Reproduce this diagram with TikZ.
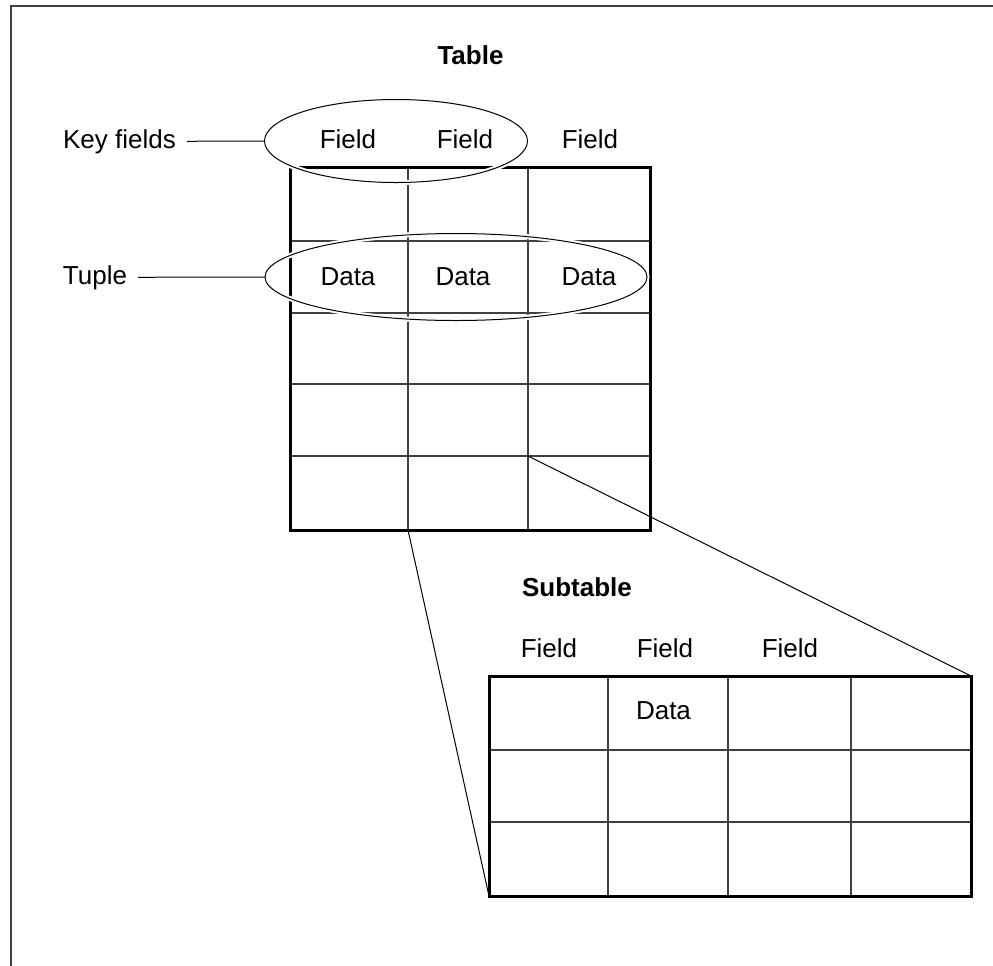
\documentclass[tikz,border=0pt]{standalone}
\usepackage{fontspec}
\setmainfont{Liberation Sans}
\usepackage{tikz}
\usetikzlibrary{
    shapes.geometric,
    positioning,
    calc
}

\begin{document}
\begin{tikzpicture}[
        x=0.5pt, y=-0.5pt,
        lbl/.style={font=\fontsize{13}{15}\selectfont, anchor=base, inner sep=0pt},
        tag/.style={font=\fontsize{13}{15}\selectfont, anchor=base, inner sep=0pt, outer sep=5.5pt},
        ttl/.style={font=\fontsize{13}{15}\selectfont\bfseries, anchor=base, inner sep=0pt},
        box/.style={rectangle, draw, line width=1.5pt, inner sep=0pt, outer sep=0pt},
        rule/.style={draw=black!75, line width=0.6pt},
        oval/.style={ellipse, draw, line width=0.5pt, inner sep=0pt, outer sep=0pt, preaction={draw=white, line width=2.5pt}},
        link/.style={draw, line width=0.5pt}
    ]
        \useasboundingbox (0,0) rectangle (993,966);
        \draw[black!75, line width=0.7pt] (11,966) -- (11,6) -- (993,6);

        % table
        \draw[rule] (408,167) -- (408,530);
        \draw[rule] (528,167) -- (528,530);
        \draw[rule] (290,241) -- (650,241);
        \draw[rule] (290,313) -- (650,313);
        \draw[rule] (290,384) -- (650,384);
        \draw[rule] (290,456) -- (650,456);
        \node[box, minimum width=180pt, minimum height=181.5pt] (tbl) at (470,348.5) {};

        \node[oval, minimum width=131.5pt, minimum height=41.5pt] (keys) at (396,141) {};
        \node[oval, minimum width=191pt, minimum height=43.5pt] (tuple) at (456,277) {};

        \node[ttl] (tblttl) at (470.5,64) {Table};
        \node[lbl] (field1) at (348,148) {Field};
        \node[lbl] (field2) at (465,148) {Field};
        \node[lbl] (field3) at (590,148) {Field};
        \node[lbl] (data1) at (348,285) {Data};
        \node[lbl] (data2) at (463,285) {Data};
        \node[lbl] (data3) at (589,285) {Data};

        \node[tag] (keylbl) at (119.5,148) {Key fields};
        \node[tag] (tuplelbl) at (95,284) {Tuple};
        \draw[link] (keylbl.east) -- (keys.west);
        \draw[link] (tuplelbl.east) -- (tuple.west);

        % subtable
        \draw[rule] (608,676) -- (608,896);
        \draw[rule] (728,676) -- (728,896);
        \draw[rule] (851,676) -- (851,896);
        \draw[rule] (489,750) -- (971,750);
        \draw[rule] (489,822) -- (971,822);
        \node[box, minimum width=241pt, minimum height=110pt] (sub) at (730,786) {};

        \node[ttl] (subttl) at (577,596) {Subtable};
        \node[lbl] (subfield1) at (549,657) {Field};
        \node[lbl] (subfield2) at (665,657) {Field};
        \node[lbl] (subfield3) at (790,657) {Field};
        \node[lbl] (subdata) at (663.5,719) {Data};

        \coordinate (colfoot) at (408,530);
        \coordinate (cellcorner) at (528,456);
        \draw[link] (colfoot) -- (sub.south west);
        \draw[link] (cellcorner) -- (sub.north east);
    \end{tikzpicture}
\end{document}
